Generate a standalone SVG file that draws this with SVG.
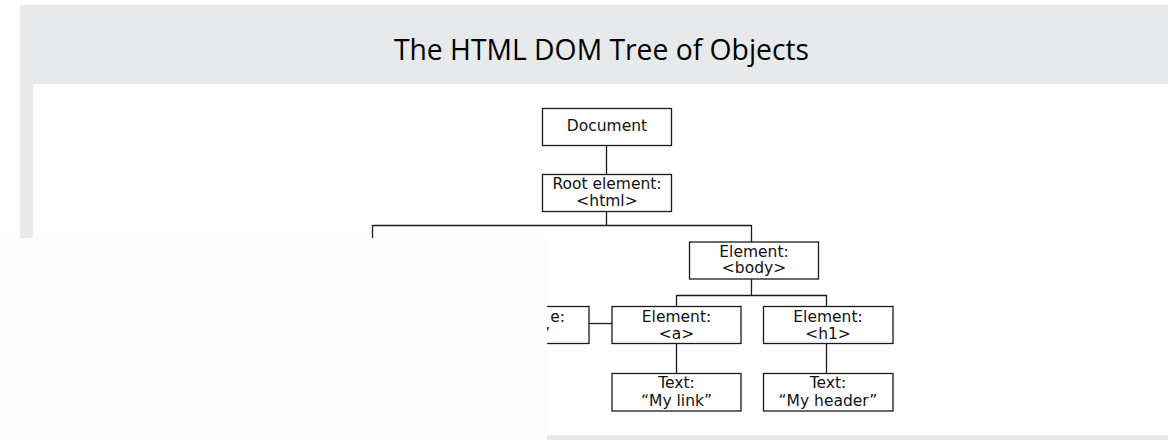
<svg xmlns="http://www.w3.org/2000/svg" width="1168" height="440" viewBox="0 0 1168 440">
  <defs>
    <style>
      .frame { fill: #e7e9eb; }
      .content { fill: #ffffff; }
      .node rect { fill: #ffffff; stroke: #1a1a1a; stroke-width: 1.3; }
      .node text { font-family: "DejaVu Sans", Verdana, sans-serif; font-size: 15.5px; fill: #111; text-anchor: middle; }
      #connectors line { stroke: #1a1a1a; stroke-width: 1.3; fill: none; }
      .title { font-family: "Open Sans", "Segoe UI", sans-serif; font-size: 28.3px; fill: #000; text-anchor: middle; }
    </style>
    <clipPath id="visible">
      <rect x="547" y="0" width="621" height="440"/>
    </clipPath>
  </defs>

  <!-- page background -->
  <rect x="0" y="0" width="1168" height="440" fill="#ffffff"/>
  <rect class="frame" x="20" y="5" width="1148" height="435"/>
  <rect class="content" x="33" y="84" width="1135" height="351"/>
  <text class="title" x="601.5" y="60">The HTML DOM Tree of Objects</text>

  <!-- connectors -->
  <g id="connectors">
    <line x1="606.5" y1="145.5" x2="606.5" y2="174.5"/>
    <line x1="606.5" y1="212" x2="606.5" y2="225.5"/>
    <line x1="372.5" y1="225.5" x2="751.5" y2="225.5"/>
    <line x1="372.5" y1="225" x2="372.5" y2="245"/>
    <line x1="751.5" y1="225" x2="751.5" y2="242"/>
    <line x1="751.5" y1="279" x2="751.5" y2="295.5"/>
    <line x1="676.5" y1="295.5" x2="826.5" y2="295.5"/>
    <line x1="676.5" y1="295" x2="676.5" y2="306.5"/>
    <line x1="826.5" y1="295" x2="826.5" y2="306.5"/>
    <line x1="676.5" y1="343.5" x2="676.5" y2="373.5"/>
    <line x1="826.5" y1="343.5" x2="826.5" y2="373.5"/>
    <line x1="589" y1="323.5" x2="612" y2="323.5"/>
  </g>

  <!-- nodes -->
  <g id="node-document" class="node">
    <rect x="542.5" y="108.5" width="129" height="37"/>
    <text x="607" y="130.5">Document</text>
  </g>
  <g id="node-root" class="node">
    <rect x="542.5" y="174.5" width="129" height="37"/>
    <text x="607" y="189">Root element:</text>
    <text x="607" y="205.5">&lt;html&gt;</text>
  </g>
  <g id="node-body" class="node">
    <rect x="689.5" y="242" width="129" height="37"/>
    <text x="754" y="256.5">Element:</text>
    <text x="754" y="273">&lt;body&gt;</text>
  </g>
  <g id="node-attr" class="node" clip-path="url(#visible)">
    <rect x="459.5" y="306.5" width="129.5" height="37"/>
    <text x="565" y="321.5" style="text-anchor:end">e:</text>
    <text x="550" y="339" style="text-anchor:end">”</text>
  </g>
  <g id="node-a" class="node">
    <rect x="612" y="306.5" width="129" height="37"/>
    <text x="676.5" y="321.5">Element:</text>
    <text x="676.5" y="339">&lt;a&gt;</text>
  </g>
  <g id="node-h1" class="node">
    <rect x="763.5" y="306.5" width="129.5" height="37"/>
    <text x="828" y="321.5">Element:</text>
    <text x="828" y="339">&lt;h1&gt;</text>
  </g>
  <g id="node-text-link" class="node">
    <rect x="612" y="373.5" width="129" height="37.5"/>
    <text x="676.5" y="388">Text:</text>
    <text x="676.5" y="405.5">“My link”</text>
  </g>
  <g id="node-text-header" class="node">
    <rect x="763.5" y="373.5" width="129.5" height="37.5"/>
    <text x="828" y="388">Text:</text>
    <text x="828" y="405.5">“My header”</text>
  </g>

  <!-- white overlay panel covering the lower left -->
  <rect x="0" y="238" width="547" height="202" fill="#fdfdfd"/>
</svg>
